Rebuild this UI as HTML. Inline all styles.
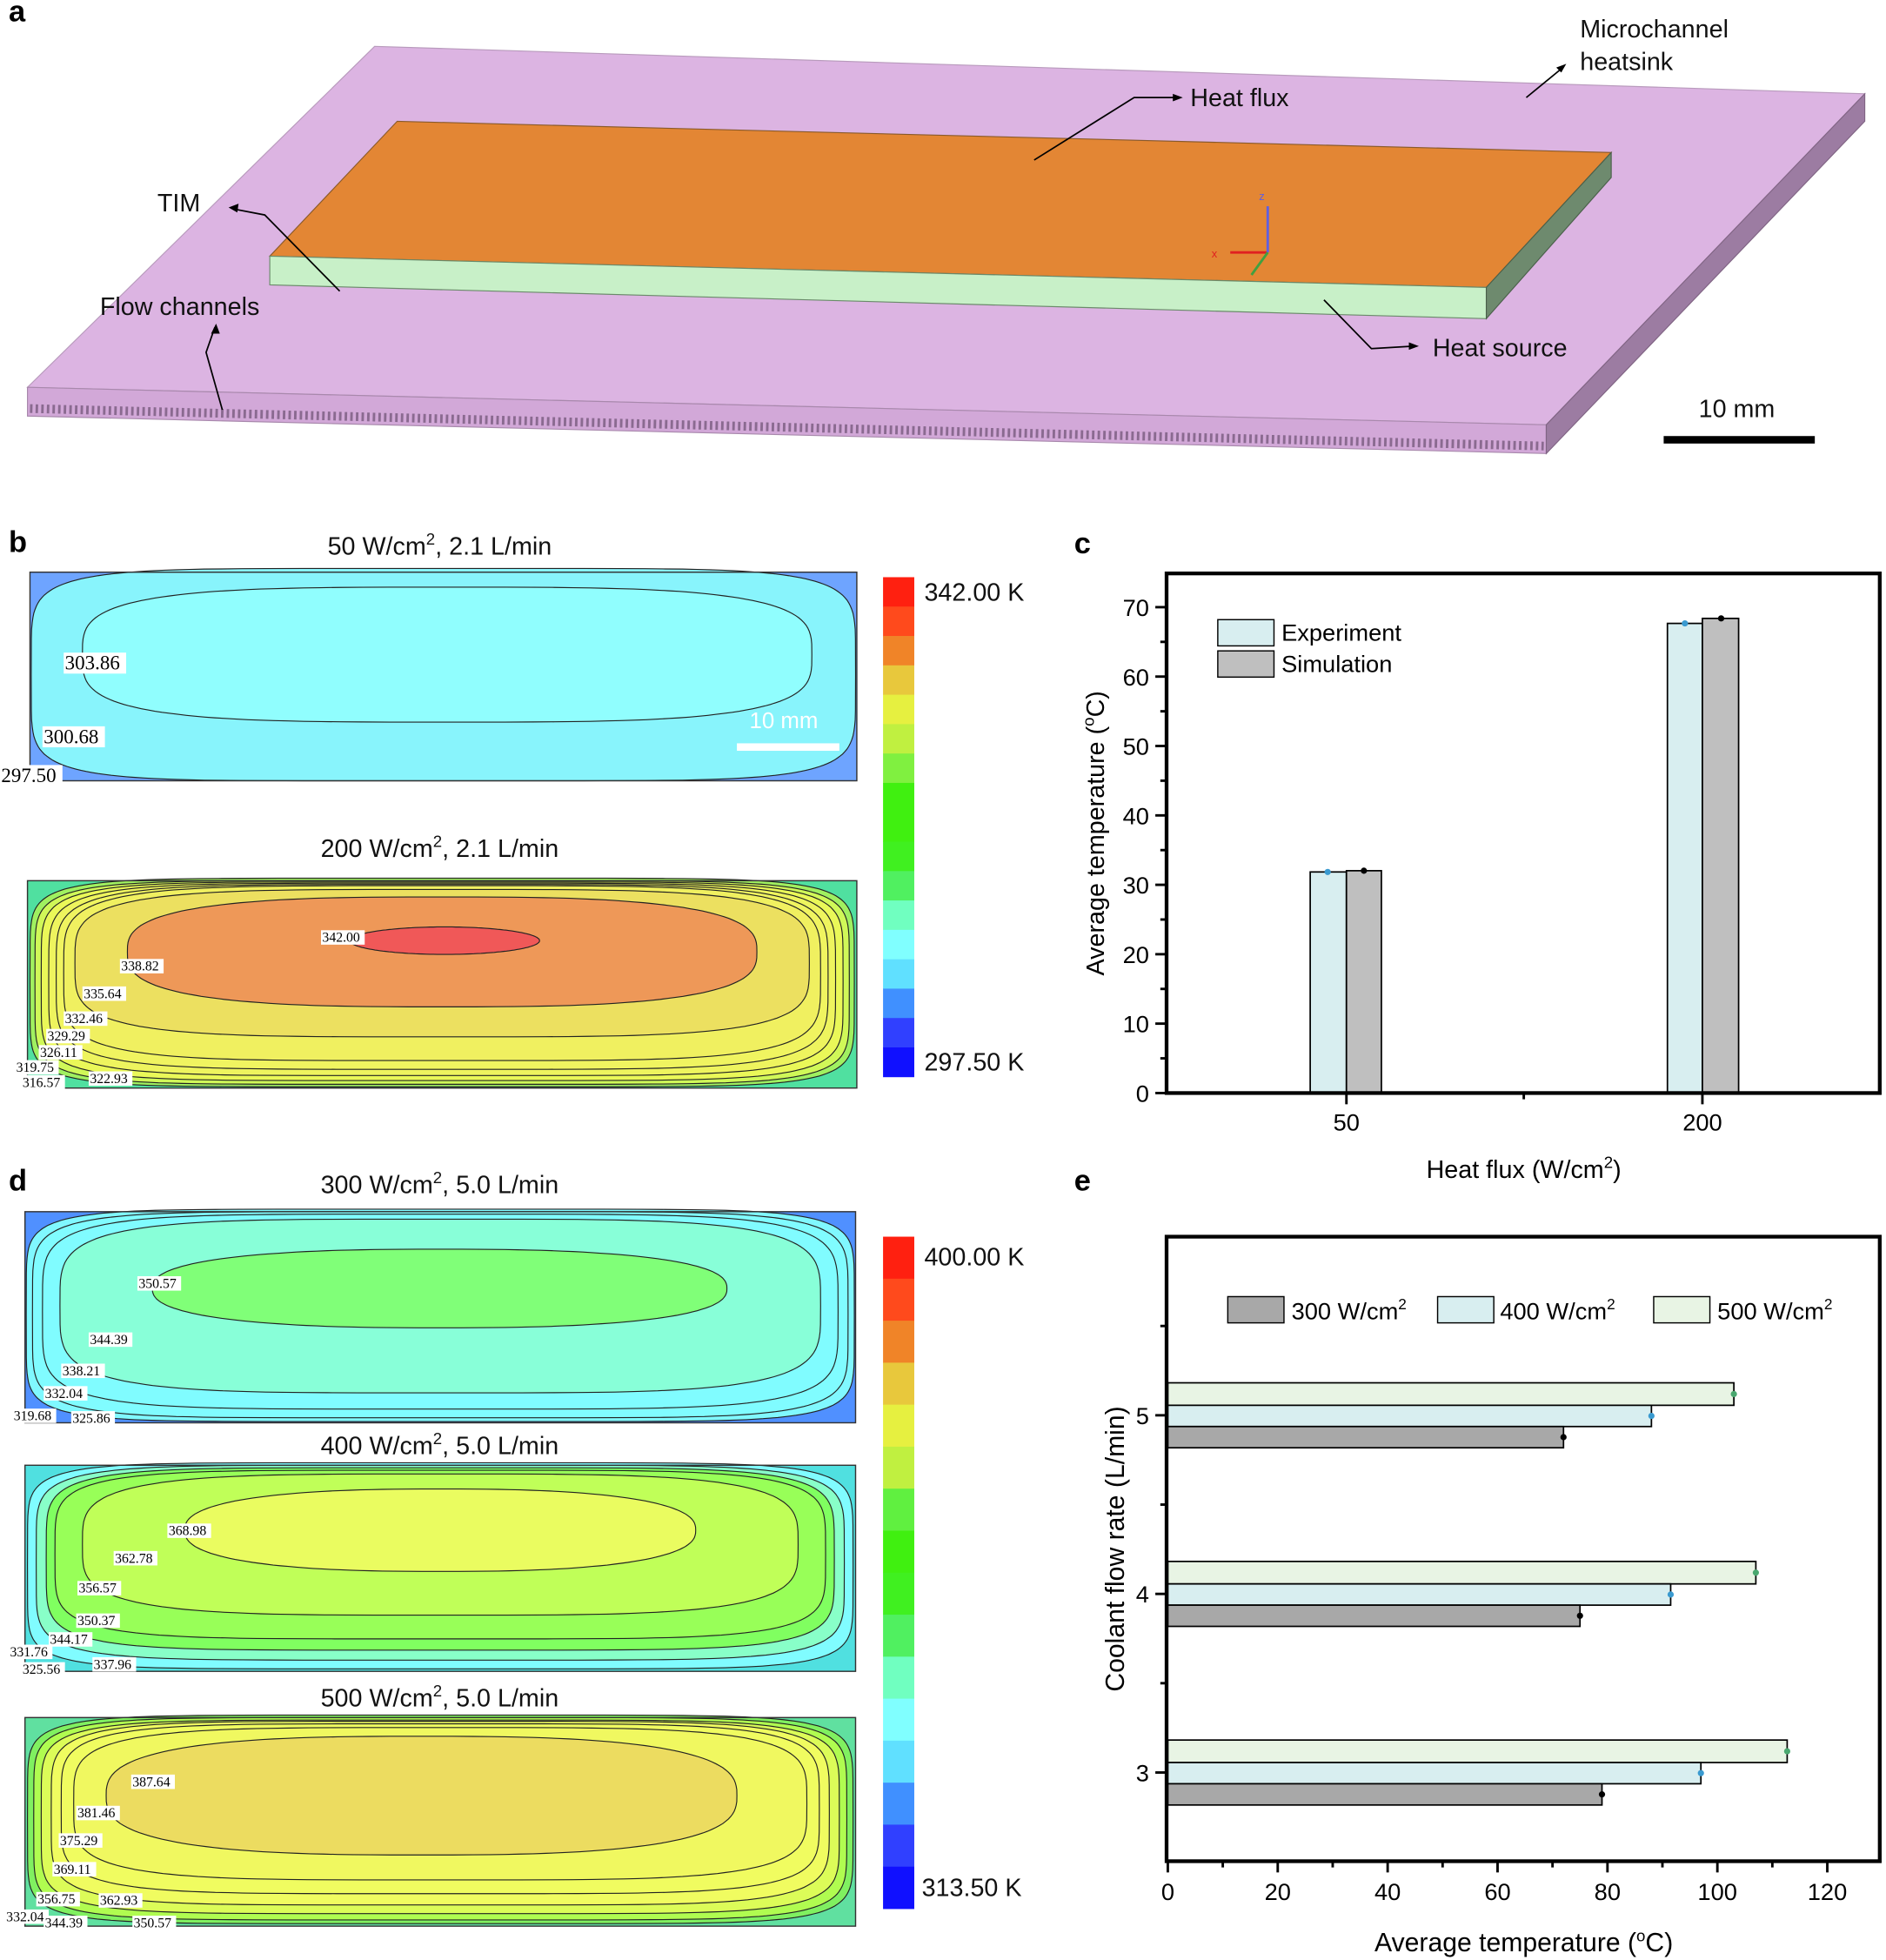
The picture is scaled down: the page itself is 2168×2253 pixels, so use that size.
<!DOCTYPE html>
<html><head><meta charset="utf-8">
<style>html,body{margin:0;padding:0;background:#fff}svg{display:block}</style>
</head><body>
<svg id="s" xmlns="http://www.w3.org/2000/svg" width="2168" height="2253" viewBox="0 0 1510 1569" font-family="Liberation Sans, sans-serif">
<rect width="1510" height="1569" fill="#fff"/>
<g>
<polygon points="300,37 1493,75 1238,340 22,310" fill="#dcb4e2" stroke="#b89abc" stroke-width="0.8"/>
<polygon points="22,310 1238,340 1238,363 22,333" fill="#d2a8d8" stroke="#a888ac" stroke-width="0.8"/>
<polygon points="1238,340 1493,75 1493,97 1238,363" fill="#9c7ca2" stroke="#806484" stroke-width="0.8"/>
<line x1="24" y1="327" x2="1236" y2="357" stroke="#8a6a90" stroke-width="7" stroke-dasharray="2 2.5"/>
<polygon points="318,97 1290,122 1190,230 216,205" fill="#e38634" stroke="#8a5a2a" stroke-width="0.8"/>
<polygon points="216,205 1190,230 1190,255 216,228" fill="#c8f0c8" stroke="#6a8a6a" stroke-width="0.8"/>
<polygon points="1190,230 1290,122 1290,142 1190,255" fill="#6e8a6e" stroke="#4a604a" stroke-width="0.8"/>
<line x1="1015" y1="202" x2="985" y2="202" stroke="#e02020" stroke-width="2"/>
<line x1="1015" y1="202" x2="1015" y2="165" stroke="#6060e0" stroke-width="2"/>
<line x1="1015" y1="202" x2="1002" y2="220" stroke="#40a040" stroke-width="2"/>
<text x="970" y="206" font-size="9" fill="#e02020">x</text>
<text x="1008" y="160" font-size="9" fill="#6060e0">z</text>
<g stroke="#000" stroke-width="1.2" fill="none">
<polyline points="1222,78 1250,55"/><polyline points="828,128 908,78 945,78"/>
<polyline points="272,233 212,172 186,167"/><polyline points="178,328 165,282 172,262"/>
<polyline points="1060,240 1098,279 1132,277"/>
</g>
<g fill="#000"><polygon points="1254,51 1246,54 1250,58"/><polygon points="947,78 939,75 939,81"/><polygon points="183,166 191,163 190,170"/><polygon points="173,259 169,267 176,267"/><polygon points="1136,277 1128,274 1128,280"/></g>
<g font-size="20" fill="#111">
<text x="1265" y="30">Microchannel</text><text x="1265" y="56">heatsink</text>
<text x="953" y="85">Heat flux</text><text x="126" y="169">TIM</text>
<text x="80" y="252">Flow channels</text><text x="1147" y="285">Heat source</text>
<text x="1360" y="334">10 mm</text>
</g>
<rect x="1332" y="349" width="121" height="6" fill="#000"/>
</g>
<g font-size="24" font-weight="bold"><text x="7" y="17">a</text><text x="7" y="442">b</text><text x="860" y="443">c</text><text x="7" y="953">d</text><text x="860" y="953">e</text></g>
<g font-size="20" text-anchor="middle" fill="#111">
<text x="352" y="444">50 W/cm<tspan font-size="13" dy="-8">2</tspan><tspan dy="8">, 2.1 L/min</tspan></text>
<text x="352" y="686">200 W/cm<tspan font-size="13" dy="-8">2</tspan><tspan dy="8">, 2.1 L/min</tspan></text>
<text x="352" y="955">300 W/cm<tspan font-size="13" dy="-8">2</tspan><tspan dy="8">, 5.0 L/min</tspan></text>
<text x="352" y="1164">400 W/cm<tspan font-size="13" dy="-8">2</tspan><tspan dy="8">, 5.0 L/min</tspan></text>
<text x="352" y="1366">500 W/cm<tspan font-size="13" dy="-8">2</tspan><tspan dy="8">, 5.0 L/min</tspan></text>
</g>
<g id="contours"></g>
<g id="cbars"></g>
<g font-size="20" fill="#111">
<text x="740" y="481">342.00 K</text><text x="740" y="857">297.50 K</text>
<text x="740" y="1013">400.00 K</text><text x="738" y="1518">313.50  K</text>
</g>
<g>
<rect x="1049" y="698" width="29" height="177" fill="#d8eef0" stroke="#000" stroke-width="1.2"/>
<rect x="1078" y="697" width="28" height="178" fill="#bfbfbf" stroke="#000" stroke-width="1.2"/>
<rect x="1335" y="499" width="28" height="376" fill="#d8eef0" stroke="#000" stroke-width="1.2"/>
<rect x="1363" y="495" width="29" height="380" fill="#bfbfbf" stroke="#000" stroke-width="1.2"/>
<circle cx="1063" cy="698" r="2.5" fill="#3a9ad0"/><circle cx="1092" cy="697" r="2.5" fill="#000"/>
<circle cx="1349" cy="499" r="2.5" fill="#3a9ad0"/><circle cx="1378" cy="495" r="2.5" fill="#000"/>
<rect x="934" y="459" width="571" height="416" fill="none" stroke="#000" stroke-width="3"/>
<rect x="975" y="496" width="45" height="21" fill="#d8eef0" stroke="#000"/>
<rect x="975" y="521" width="45" height="21" fill="#bfbfbf" stroke="#000"/>
<text x="1026" y="513" font-size="19">Experiment</text><text x="1026" y="538" font-size="19">Simulation</text>
<g id="cticks"></g>
<text x="1220" y="943" font-size="20" text-anchor="middle">Heat flux (W/cm<tspan font-size="13" dy="-8">2</tspan><tspan dy="8">)</tspan></text>
<text transform="translate(884,667) rotate(-90)" font-size="20" text-anchor="middle">Average temperature (<tspan font-size="13" dy="-8">o</tspan><tspan dy="8">C)</tspan></text>
</g>
<g>
<g id="ebars"></g>
<rect x="934" y="990" width="571" height="500" fill="none" stroke="#000" stroke-width="3"/>
<rect x="983" y="1038" width="45" height="21" fill="#a8a8a8" stroke="#000"/>
<rect x="1151" y="1038" width="45" height="21" fill="#d8eef0" stroke="#000"/>
<rect x="1324" y="1038" width="45" height="21" fill="#e8f4e4" stroke="#000"/>
<g font-size="19"><text x="1034" y="1056">300 W/cm<tspan font-size="12" dy="-8">2</tspan></text>
<text x="1201" y="1056">400 W/cm<tspan font-size="12" dy="-8">2</tspan></text>
<text x="1375" y="1056">500 W/cm<tspan font-size="12" dy="-8">2</tspan></text></g>
<g id="eticks"></g>
<text x="1220" y="1562" font-size="21" text-anchor="middle">Average temperature (<tspan font-size="13" dy="-8">o</tspan><tspan dy="8">C)</tspan></text>
<text transform="translate(900,1240) rotate(-90)" font-size="21" text-anchor="middle">Coolant flow rate (L/min)</text>
</g>
</svg>
<script>
var NS="http://www.w3.org/2000/svg";
function el(p,t,a,txt){var e=document.createElementNS(NS,t);for(var k in a)e.setAttribute(k,a[k]);if(txt!=null)e.textContent=txt;p.appendChild(e);return e;}
function se(x0,y0,x1,y1,p){var cx=(x0+x1)/2,cy=(y0+y1)/2,a=(x1-x0)/2,b=(y1-y0)/2,d="";for(var i=0;i<=160;i++){var t=i/160*2*Math.PI,c=Math.cos(t),s=Math.sin(t);var x=cx+a*Math.sign(c)*Math.pow(Math.abs(c),2/p),y=cy+b*Math.sign(s)*Math.pow(Math.abs(s),2/p);d+=(i?"L":"M")+x.toFixed(1)+","+y.toFixed(1);}return d+"Z";}
var G=document.getElementById("contours");
function plot(x0,y0,x1,y1,bg,levels,labels){
 el(G,"rect",{x:x0,y:y0,width:x1-x0,height:y1-y0,fill:bg});
 levels.forEach(function(L){var li=L[0],ri=(L.length>5)?L[5]:li;el(G,"path",{d:se(x0+li,y0+L[1],x1-ri,y1-L[2],L[3]),fill:L[4],stroke:"#222","stroke-width":0.8});});
 el(G,"rect",{x:x0,y:y0,width:x1-x0,height:y1-y0,fill:"none",stroke:"#333","stroke-width":1});
 labels.forEach(function(l){var fs=l[3]||11;var w=l[2].length*fs*0.5;el(G,"rect",{x:l[0]-1,y:l[1]-fs*0.85,width:w+2,height:fs*1.05,fill:"#fff"});el(G,"text",{x:l[0],y:l[1],"font-size":fs,"font-family":"Liberation Serif, serif"},l[2]);});
}
plot(24,458,686,625,"#6ea4ff",[[1,-3,0,6,"#88f4fc"],[42,12,47,3.5,"#90fefe",36]],[[52,536,"303.86",16],[35,595,"300.68",16],[1,626,"297.50",16]]);
el(G,"rect",{x:590,y:595,width:82,height:6,fill:"#fff"});
el(G,"text",{x:600,y:583,"font-size":18,fill:"#fff"},"10 mm");
plot(22,705,686,871,"#50e0a0",[[2,-2,1,7,"#a0f060"],[6,0,3,6.5,"#d0f858"],[11,1,6,6,"#eaf858"],[17,2,10,5.5,"#eef45e"],[23,3,15,5,"#f0f460"],[29,4,22,4.6,"#f0f060"],[38,7,41,4,"#ece060"],[80,13,65,2.9,"#ee9858",80],[258,37,107,2,"#f05858",254]],
 [[258,754,"342.00"],[97,777,"338.82"],[67,799,"335.64"],[52,819,"332.46"],[38,833,"329.29"],[32,846,"326.11"],[13,858,"319.75"],[18,870,"316.57"],[72,867,"322.93"]]);
plot(20,970,685,1139,"#5090ff",[[1,-2,1,7,"#80f8ff"],[6,0,4,6,"#80fcff"],[14,2,11,5,"#80fcff"],[28,6,24,4.2,"#88ffd8"],[102,30,76,2.5,"#80ff78",103]],
 [[111,1031,"350.57"],[72,1076,"344.39"],[50,1101,"338.21"],[36,1119,"332.04"],[11,1137,"319.68"],[58,1139,"325.86"]]);
plot(20,1173,685,1338,"#50e0e0",[[2,-2,2,7,"#80fcff"],[9,0,9,6,"#88ffc8"],[17,2,17,5.5,"#80ff60"],[24,4,26,5,"#98ff58"],[46,7,45,3.8,"#c0ff58"],[128,19,80,2.5,"#eafc60",128]],
 [[135,1229,"368.98"],[92,1251,"362.78"],[63,1275,"356.57"],[62,1301,"350.37"],[40,1316,"344.17"],[8,1326,"331.76"],[18,1340,"325.56"],[75,1336,"337.96"]]);
plot(20,1375,685,1542,"#60e0a0",[[2,-2,2,7,"#80f060"],[7,0,5,6.5,"#b0fc50"],[13,2,10,6,"#dcfc58"],[21,3,17,5.5,"#f0fc60"],[29,5,26,5,"#f0fc60"],[39,8,37,4.2,"#f0f860"],[65,15,57,2.8,"#ecdc60",95]],
 [[106,1430,"387.64"],[62,1455,"381.46"],[48,1477,"375.29"],[43,1500,"369.11"],[30,1524,"356.75"],[80,1525,"362.93"],[5,1538,"332.04"],[36,1543,"344.39"],[107,1543,"350.57"]]);
var C=document.getElementById("cbars");
(function(){var y0=462,y1=862,n=17,h=(y1-y0)/n;var c1=["#ff2010","#ff4a1c","#f08428","#e8c83c","#e6f040","#c0f040","#80f040","#40f010","#40f010","#40f020","#50f060","#70ffc0","#80ffff","#60e0ff","#4090ff","#3040ff","#1010ff"];for(var i=0;i<n;i++)el(C,"rect",{x:707,y:y0+i*h,width:25,height:h+0.3,fill:c1[i]});})();
(function(){var y0=990,y1=1528,n=16,h=(y1-y0)/n;var c2=["#ff2010","#ff4a1c","#f08428","#e8c83c","#e6f040","#c0f040","#60f040","#40f010","#40f020","#50f060","#70ffc0","#80ffff","#60e0ff","#4090ff","#3040ff","#1010ff"];for(var i=0;i<n;i++)el(C,"rect",{x:707,y:y0+i*h,width:25,height:h+0.3,fill:c2[i]});})();
var T=document.getElementById("cticks");
for(var v=0;v<=70;v+=5){var y=875-v*5.557;el(T,"line",{x1:934,x2:v%10?929:925,y1:y,y2:y,stroke:"#000","stroke-width":2});if(v%10==0)el(T,"text",{x:920,y:y+7,"font-size":19,"text-anchor":"end"},v);}
[[1078,"50"],[1363,"200"]].forEach(function(t){el(T,"line",{x1:t[0],x2:t[0],y1:875,y2:884,stroke:"#000","stroke-width":2});el(T,"text",{x:t[0],y:905,"font-size":19,"text-anchor":"middle"},t[1]);});
el(T,"line",{x1:1220,x2:1220,y1:875,y2:880,stroke:"#000","stroke-width":2});
var E=document.getElementById("ebars");
var data=[[1133,72,88,103],[1276,75,91.5,107],[1419,79,97,112.7]];
data.forEach(function(d){var yc=d[0];var sp=[[yc-26,18,d[3],"#e8f4e4","#4aa870"],[yc-8,17,d[2],"#d8eef0","#3a9ad0"],[yc+9,17,d[1],"#a8a8a8","#000"]];
sp.forEach(function(s){var w=s[2]*4.4;el(E,"rect",{x:935,y:s[0],width:w,height:s[1],fill:s[3],stroke:"#000","stroke-width":1.2});el(E,"circle",{cx:935+w,cy:s[0]+s[1]/2,r:2.5,fill:s[4]});});});
var ET=document.getElementById("eticks");
for(var v=0;v<=130;v+=10){var x=935+v*4.4;if(x>1505)break;el(ET,"line",{x1:x,x2:x,y1:1490,y2:v%20?1495:1499,stroke:"#000","stroke-width":2});if(v%20==0)el(ET,"text",{x:x,y:1521,"font-size":19,"text-anchor":"middle"},v);}
for(var r=2.5;r<=6;r+=0.5){var y=1419-(r-3)*143;if(y<995||y>1488)continue;el(ET,"line",{x1:934,x2:r%1?929:925,y1:y,y2:y,stroke:"#000","stroke-width":2});if(r%1==0)el(ET,"text",{x:920,y:y+7,"font-size":19,"text-anchor":"end"},r);}
</script>
</body></html>
